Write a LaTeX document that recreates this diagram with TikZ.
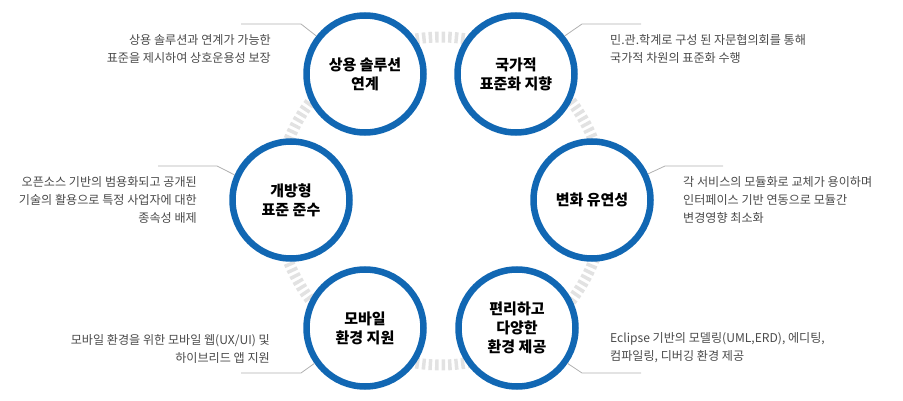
\documentclass[tikz,border=0pt]{standalone}
\usepackage{fontspec}
\setmainfont{Noto Sans CJK KR}
\definecolor{ringblue}{HTML}{1167B3}
\definecolor{ringgray}{HTML}{E2E2E2}
\definecolor{leadgray}{HTML}{B0B0B0}
\definecolor{desctext}{HTML}{4A4A4A}
\begin{document}
\begin{tikzpicture}[x=1pt,y=-1pt,
  bubble/.style={circle,draw=ringblue,line width=6.5pt,fill=white,minimum size=117pt,inner sep=0pt,align=center,font=\fontsize{15}{19}\selectfont\bfseries},
  desc/.style={text=desctext,font=\fontsize{12.1}{18}\selectfont,inner sep=0pt},
  leader/.style={draw=leadgray,line width=0.8pt},
  ringline/.style={draw=ringgray,line width=11pt,dash pattern=on 3.5pt off 3pt}]
\useasboundingbox (0,0) rectangle (903,401);
\coordinate (mid) at (441,201);
\draw[ringline] (mid) circle (164pt);
\node[bubble] (c1) at (365,74) {상용 솔루션\\연계};
\node[bubble] (c2) at (516,74) {국가적\\표준화 지향};
\node[bubble] (c3) at (291,200) {개방형\\표준 준수};
\node[bubble] (c4) at (592,200) {변화 유연성};
\node[bubble] (c5) at (365,328) {모바일\\환경 지원};
\node[bubble] (c6) at (517,328) {편리하고\\다양한\\환경 제공};
% leader lines
\coordinate (b1) at (301,24); \coordinate (e1) at (241,24);
\coordinate (b2) at (582,24); \coordinate (e2) at (641,24);
\coordinate (b3) at (217,166); \coordinate (e3) at (158,166);
\coordinate (b4) at (665,166); \coordinate (e4) at (723,166);
\coordinate (b5) at (301,373); \coordinate (e5) at (241,373);
\coordinate (b6) at (582,373); \coordinate (e6) at (641,373);
\draw[leader] (c1.142) -- (b1) -- (e1);
\draw[leader] (c2.38) -- (b2) -- (e2);
\draw[leader] (c3.156) -- (b3) -- (e3);
\draw[leader] (c4.25) -- (b4) -- (e4);
\draw[leader] (c5.215) -- (b5) -- (e5);
\draw[leader] (c6.-35) -- (b6) -- (e6);
% descriptions
\node[desc,align=right,anchor=east] (d1) at (271,49) {상용 솔루션과 연계가 가능한\\표준을 제시하여 상호운용성 보장};
\node[desc,align=left,anchor=west] (d2) at (610,49) {민.관.학계로 구성 된 자문협의회를 통해\\국가적 차원의 표준화 수행};
\node[desc,align=right,anchor=east] (d3) at (197,200) {오픈소스 기반의 범용화되고 공개된\\기술의 활용으로 특정 사업자에 대한\\종속성 배제};
\node[desc,align=left,anchor=west] (d4) at (683,200) {각 서비스의 모듈화로 교체가 용이하며\\인터페이스 기반 연동으로 모듈간\\변경영향 최소화};
\node[desc,align=right,anchor=east] (d5) at (270,348.5) {모바일 환경을 위한 모바일 웹(UX/UI) 및\\하이브리드 앱 지원};
\node[desc,align=left,anchor=west] (d6) at (610,348) {Eclipse 기반의 모델링(UML,ERD), 에디팅,\\컴파일링, 디버깅 환경 제공};
\end{tikzpicture}
\end{document}
